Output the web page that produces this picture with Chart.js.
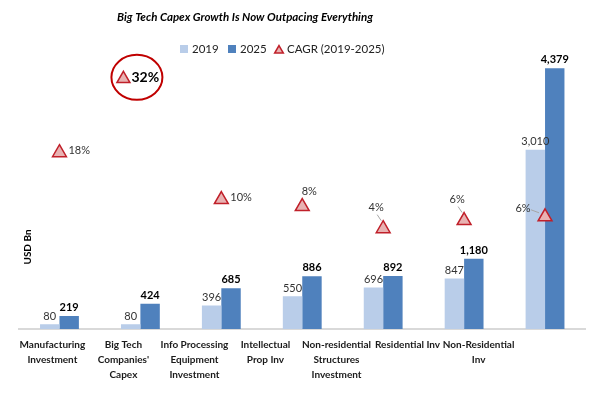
<!DOCTYPE html>
<html>
<head>
<meta charset="utf-8">
<script src="https://cdn.jsdelivr.net/npm/chart.js@4.4.4/dist/chart.umd.min.js"></script>
<style>
  html, body { margin: 0; padding: 0; background: #fff; }
  .chart { width: 595px; height: 404px; position: relative; }
</style>
</head>
<body>
<div class="chart"><canvas></canvas></div>
<script>
// Data
const categories = [
  ['Manufacturing', 'Investment'],
  ['Big Tech', "Companies'", 'Capex'],
  ['Info Processing', 'Equipment', 'Investment'],
  ['Intellectual', 'Prop Inv'],
  ['Non-residential', 'Structures', 'Investment'],
  'Residential Inv',
  ['Non-Residential', 'Inv'],
];
const values2019 = [80, 80, 396, 550, 696, 847, 3010];
const values2025 = [219, 424, 685, 886, 892, 1180, 4379];
const cagr = [18.3, 32.0, 9.6, 8.3, 4.2, 5.7, 6.4];

const title = 'Big Tech Capex Growth Is Now Outpacing Everything';
const legendNames = ['2019', '2025', 'CAGR (2019-2025)'];

const light = '#b9cde9';
const dark = '#4f81bd';
const triFill = '#e8b2b2';
const triLine = '#c0202a';
const FONT = 'Lato';

// where each CAGR label sits relative to its marker: [dx, dy, align, leader]
const cagrLabelPos = [
  [9, -2, 'left', false],
  null,
  [9, -2, 'left', false],
  [7, -15, 'center', false],
  [-7, -21, 'center', true],
  [-7, -21, 'center', true],
  [-22, -8, 'center', true],
];

function triangle(ctx, x, y, r) {
  ctx.beginPath();
  for (let k = 0; k < 3; k++) {
    const a = k * 2 * Math.PI / 3;
    const px = x + Math.sin(a) * r, py = y - Math.cos(a) * r;
    if (k === 0) ctx.moveTo(px, py); else ctx.lineTo(px, py);
  }
  ctx.closePath();
  ctx.fillStyle = triFill;
  ctx.fill();
  ctx.lineWidth = 1.5;
  ctx.strokeStyle = triLine;
  ctx.stroke();
}

const decorations = {
  id: 'decorations',
  afterDatasetsDraw(chart) {
    const ctx = chart.ctx;
    ctx.save();

    // title
    ctx.fillStyle = '#000';
    ctx.font = `italic bold 11.5px ${FONT}`;
    ctx.textAlign = 'center';
    ctx.textBaseline = 'middle';
    ctx.fillText(title, 245, 17);

    // legend
    ctx.font = `11.5px ${FONT}`;
    ctx.textAlign = 'left';
    ctx.fillStyle = light;
    ctx.fillRect(180, 45, 8, 8);
    ctx.fillStyle = dark;
    ctx.fillRect(228, 45, 8, 8);
    triangle(ctx, 279, 50.5, 5);
    ctx.fillStyle = '#222';
    ctx.fillText(legendNames[0], 192, 49);
    ctx.fillText(legendNames[1], 240, 49);
    ctx.fillText(legendNames[2], 287, 49);

    // axis title
    ctx.save();
    ctx.translate(28, 247);
    ctx.rotate(-Math.PI / 2);
    ctx.font = `bold 10px ${FONT}`;
    ctx.textAlign = 'center';
    ctx.fillStyle = '#000';
    ctx.fillText('USD Bn', 0, 0);
    ctx.restore();

    // bar value labels
    const m19 = chart.getDatasetMeta(0), m25 = chart.getDatasetMeta(1);
    ctx.textAlign = 'center';
    m19.data.forEach((bar, i) => {
      ctx.font = `11px ${FONT}`;
      ctx.fillStyle = '#333';
      ctx.fillText(values2019[i].toLocaleString('en-US'), bar.x, bar.y - 8);
    });
    m25.data.forEach((bar, i) => {
      ctx.font = `bold 11px ${FONT}`;
      ctx.fillStyle = '#000';
      ctx.fillText(values2025[i].toLocaleString('en-US'), bar.x, bar.y - 8.5);
    });

    // CAGR labels
    const mC = chart.getDatasetMeta(2);
    ctx.font = `11px ${FONT}`;
    mC.data.forEach((pt, i) => {
      const pos = cagrLabelPos[i];
      if (!pos) return;
      const [dx, dy, align, leader] = pos;
      const txt = Math.round(cagr[i]) + '%';
      ctx.textAlign = align;
      ctx.fillStyle = '#333';
      ctx.fillText(txt, pt.x + dx, pt.y + dy);
      if (leader) {
        ctx.beginPath();
        ctx.strokeStyle = '#a6a6a6';
        ctx.lineWidth = 1;
        if (dy < -12) {
          ctx.moveTo(pt.x + dx + 1, pt.y + dy + 7);
          ctx.lineTo(pt.x - 2, pt.y - 8);
        } else {
          ctx.moveTo(pt.x + dx + 8, pt.y + dy + 1);
          ctx.lineTo(pt.x - 6, pt.y - 4);
        }
        ctx.stroke();
      }
    });

    // the Big Tech callout
    const x2 = chart.scales.x2, y2 = chart.scales.y2;
    const cx = x2.getPixelForValue(1), cy = y2.getPixelForValue(cagr[1]);
    triangle(ctx, cx, cy, 7.5);
    ctx.font = `bold 14px ${FONT}`;
    ctx.textAlign = 'left';
    ctx.fillStyle = '#000';
    ctx.fillText(Math.round(cagr[1]) + '%', cx + 8, cy - 1.5);
    ctx.beginPath();
    ctx.ellipse(cx + 13.5, cy - 1.5, 25.5, 22.5, 0, 0, 2 * Math.PI);
    ctx.strokeStyle = '#c00000';
    ctx.lineWidth = 2;
    ctx.stroke();

    ctx.restore();
  }
};

const chartEl = document.querySelector('.chart canvas');
const data = {
  labels: categories,
  datasets: [
    { type: 'bar', label: '2019', data: values2019, backgroundColor: light, yAxisID: 'y', order: 2 },
    { type: 'bar', label: '2025', data: values2025, backgroundColor: dark, yAxisID: 'y', order: 2 },
    {
      type: 'line', label: 'CAGR (2019-2025)', data: cagr, yAxisID: 'y2', order: 1,
      showLine: false, pointStyle: 'triangle',
      pointRadius: cagr.map((v, i) => i === 1 ? 0 : 8),
      pointBackgroundColor: triFill, pointBorderColor: triLine, pointBorderWidth: 1.5,
    },
  ]
};

const options = {
  responsive: false,
  animation: false,
  layout: { padding: { left: 19, right: 5, top: 61, bottom: 0 } },
  categoryPercentage: 0.48,
  barPercentage: 1,
  plugins: { legend: { display: false }, tooltip: { enabled: false } },
  scales: {
    x: { display: false, offset: true },
    x2: {
      type: 'linear', position: 'bottom',
      min: -0.47, max: 7.505,
      afterBuildTicks: axis => { axis.ticks = categories.map((c, i) => ({ value: i })); },
      afterFit: axis => { axis.height = 75; },
      grid: { display: false, drawTicks: false },
      border: { display: true, color: '#d9d9d9', width: 2 },
      ticks: {
        autoSkip: false, maxRotation: 0, padding: 8,
        color: '#1a1a1a',
        font: { family: FONT, weight: 'bold', size: 10, lineHeight: 1.53 },
        callback: (v, i) => categories[i],
      },
    },
    y: { display: false, min: 0, max: 4500 },
    y2: { display: false, min: -14.42, max: 35.31 },
  }
};

chartEl.width = 595;
chartEl.height = 404;
const chart = new Chart(chartEl, { data, options, plugins: [decorations] });
</script>
</body>
</html>
